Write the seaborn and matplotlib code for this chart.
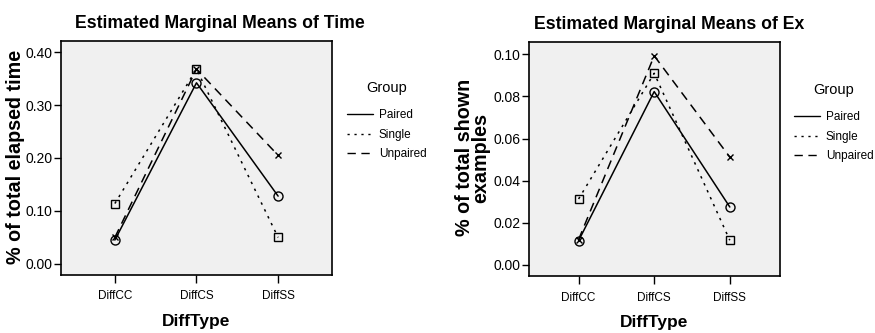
import matplotlib
matplotlib.use("Agg")
import matplotlib.pyplot as plt
from matplotlib.lines import Line2D
from matplotlib.ticker import FormatStrFormatter
import seaborn as sns
import pandas as pd

sns.set_theme(style="white")
plt.rcParams['font.family'] = ['Liberation Sans', 'DejaVu Sans']
for k in ["text.color", "axes.labelcolor", "xtick.color", "ytick.color"]:
    plt.rcParams[k] = "black"

categories = ["DiffCC", "DiffCS", "DiffSS"]
groups = ["Paired", "Single", "Unpaired"]

time_paired = [0.045, 0.342, 0.128]
time_single = [0.114, 0.368, 0.050]
time_unpaired = [0.050, 0.368, 0.205]

ex_paired = [0.0115, 0.0823, 0.0275]
ex_single = [0.0313, 0.0910, 0.0117]
ex_unpaired = [0.0120, 0.0993, 0.0512]

time_ticks = [0.00, 0.10, 0.20, 0.30, 0.40]
ex_ticks = [0.00, 0.02, 0.04, 0.06, 0.08, 0.10]


def make_df(p, s, u):
    rows = []
    for g, vals in zip(groups, [p, s, u]):
        for c, v in zip(categories, vals):
            rows.append({"DiffType": c, "Group": g, "value": v})
    return pd.DataFrame(rows)


df_time = make_df(time_paired, time_single, time_unpaired)
df_ex = make_df(ex_paired, ex_single, ex_unpaired)

markers = ["o", "s", "x"]
msizes = [6.5, 5.8, 5.0]
linestyles = ["-", (0, (1.6, 3.4)), (0, (6, 4))]

fig = plt.figure(figsize=(8.75, 3.33), dpi=100)
ax1 = fig.add_axes([0.0697, 0.1742, 0.3097, 0.7027])
ax2 = fig.add_axes([0.6042, 0.1703, 0.2869, 0.7045])


def draw(ax, df, ylim, ticks, title, title_x, ylabel, legend_xy):
    sns.pointplot(data=df, x="DiffType", y="value", hue="Group",
                  order=categories, hue_order=groups,
                  palette=["black"] * 3, markers=markers,
                  linestyles=linestyles, errorbar=None, ax=ax,
                  legend=False, linewidth=1.0)
    for ln, ms in zip(ax.lines, msizes):
        ln.set_markerfacecolor("none")
        ln.set_markeredgecolor("black")
        ln.set_markersize(ms)
        ln.set_markeredgewidth(1.0)
        ln.set_linewidth(1.1)
    ax.set_facecolor("#f0f0f0")
    ax.set_xlim(-0.66, 2.66)
    ax.set_ylim(*ylim)
    ax.set_yticks(ticks)
    ax.yaxis.set_major_formatter(FormatStrFormatter('%.2f'))
    for sp in ax.spines.values():
        sp.set_visible(True)
        sp.set_color("black")
        sp.set_linewidth(1.2)
    ax.tick_params(axis="y", direction="out", length=5, width=1, color="black",
                   labelsize=10, left=True, pad=1)
    ax.tick_params(axis="x", direction="out", length=6, width=1, color="black",
                   labelsize=8.5, bottom=True, pad=5)
    ax.set_title(title, fontsize=12.7, fontweight="bold", pad=9, x=title_x)
    ax.set_xlabel("DiffType", fontsize=12.5, fontweight="bold")
    ax.set_ylabel(ylabel, fontsize=14.2, fontweight="bold", linespacing=0.85)
    handles = [Line2D([0], [0], color="black", lw=1.0, linestyle=ls) for ls in linestyles]
    leg = ax.legend(handles, groups, title="Group", loc="upper left",
                    bbox_to_anchor=legend_xy, bbox_transform=fig.transFigure,
                    frameon=False, fontsize=8.5, title_fontsize=10.5,
                    handlelength=2.2, handletextpad=0.5, labelspacing=0.66,
                    borderpad=0, borderaxespad=0)
    leg._legend_box.sep = 10
    return ax


draw(ax1, df_time, (-0.021, 0.421), time_ticks,
     "Estimated Marginal Means of Time", 0.587, "% of total elapsed time",
     (347 / 875, 1 - 81 / 333))
draw(ax2, df_ex, (-0.0054, 0.106), ex_ticks,
     "Estimated Marginal Means of Ex", 0.559, "% of total shown\nexamples",
     (794 / 875, 1 - 83 / 333))

ax1.xaxis.set_label_coords(0.5, -0.165)
ax2.xaxis.set_label_coords(0.5, -0.164)
ax1.yaxis.set_label_coords(-0.133, 0.504)
ax2.yaxis.set_label_coords(-0.152, 0.506)

fig.savefig("out.png", dpi=100)
